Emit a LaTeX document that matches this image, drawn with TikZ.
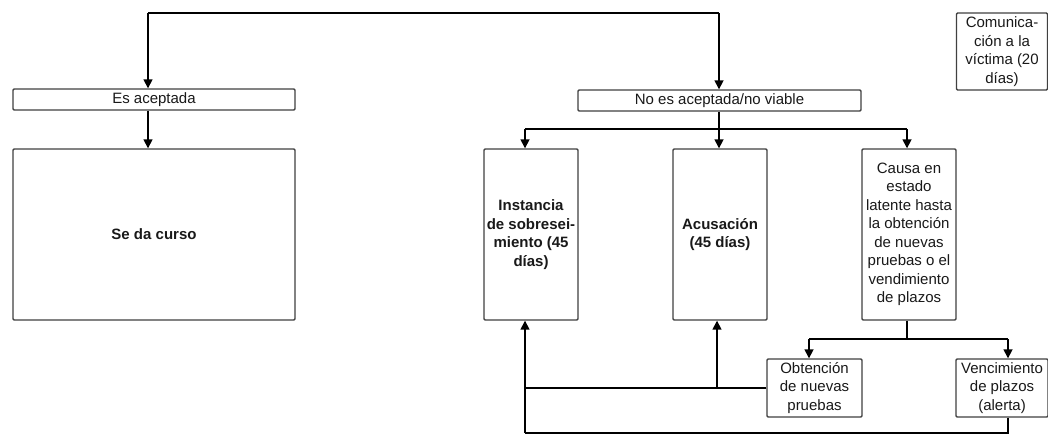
\documentclass[tikz,border=0pt]{standalone}
\usepackage{fontspec}
\setmainfont{Liberation Sans}
\usetikzlibrary{arrows.meta,calc}
\begin{document}
\begin{tikzpicture}[x=1pt,y=-1pt,
  box/.style={draw=black!75,line width=1.4pt,rounded corners=1.2pt,fill=white,
    align=center,inner sep=1pt,font=\fontsize{15}{18.5}\selectfont,text=black!90},
  boldbox/.style={box,font=\fontsize{15}{18.5}\selectfont\bfseries},
  conn/.style={draw=black,line width=1.6pt},
  arr/.style={conn,-{Triangle[length=9pt,width=9pt]}}]
\useasboundingbox (0,0) rectangle (1048,434);

% boxes
\node[box,minimum width=282pt,minimum height=21pt] (esac) at (154,99.5) {Es aceptada};
\node[boldbox,minimum width=282pt,minimum height=171pt] (curso) at (154,234.5) {Se da curso};
\node[box,minimum width=283pt,minimum height=21pt] (noac) at (719.5,100.5) {No es aceptada/no viable};
\node[boldbox,minimum width=94pt,minimum height=171pt] (inst) at (531,234.5) {Instancia\\de sobresei-\\miento (45\\días)};
\node[boldbox,minimum width=94pt,minimum height=171pt] (acus) at (720,234.5) {Acusación\\(45 días)};
\node[box,minimum width=94pt,minimum height=171pt] (causa) at (909,234.5) {Causa en\\estado\\latente hasta\\la obtención\\de nuevas\\pruebas o el\\vendimiento\\de plazos};
\node[box,minimum width=91pt,minimum height=77pt] (comun) at (1002,51.5) {Comunica-\\ción a la\\víctima (20\\días)};
\node[box,minimum width=95pt,minimum height=58pt] (obt) at (814.5,388) {Obtención\\de nuevas\\pruebas};
\node[box,minimum width=92pt,minimum height=58pt] (venc) at (1002,388) {Vencimiento\\de plazos\\(alerta)};

% junction points
\coordinate (tl) at (148,13);
\coordinate (tr) at (719,13);
\coordinate (bl) at (525,129);
\coordinate (br) at (907,129);
\coordinate (cl) at (809,339);
\coordinate (cr) at (1008,339);
\coordinate (lowl) at (525,433);

% top split
\draw[conn] (tl) -- (tr);
\draw[arr] (tl) -- (tl |- esac.north);
\draw[arr] (tr) -- (noac.north -| tr);
\draw[arr] (esac.south -| tl) -- (curso.north -| tl);

% three-way split
\draw[conn] (noac.south -| tr) -- (tr |- bl);
\draw[conn] (bl) -- (br);
\draw[arr] (bl) -- (inst.north -| bl);
\draw[arr] (tr |- bl) -- (acus.north -| tr);
\draw[arr] (br) -- (causa.north -| br);

% outcomes of the latent case
\draw[conn] (causa.south -| br) -- (br |- cl);
\draw[conn] (cl) -- (cr);
\draw[arr] (cl) -- (obt.north -| cl);
\draw[arr] (cr) -- (venc.north -| cr);

% feedback paths
\draw[conn] (obt.west) -- (obt.west -| bl);
\draw[arr] (obt.west -| 717,0) -- (acus.south -| 717,0);
\draw[conn] (venc.south -| cr) -- (cr |- lowl) -- (lowl);
\draw[arr] (lowl) -- (inst.south -| lowl);
\end{tikzpicture}
\end{document}
